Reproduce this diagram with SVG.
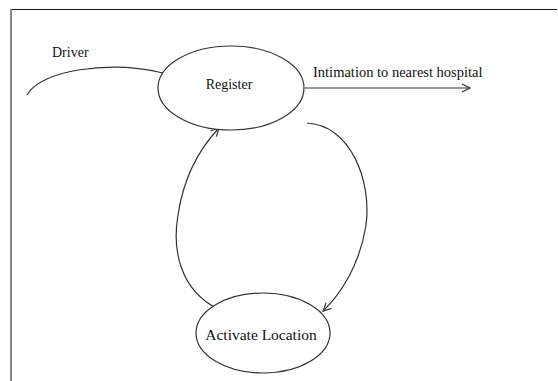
<svg xmlns="http://www.w3.org/2000/svg" width="558" height="381" viewBox="0 0 558 381">
<style>
.node{fill:#fff;stroke:#333;stroke-width:1.2}
.conn{fill:none;stroke:#333;stroke-width:1.2}
text{font-family:"Liberation Serif","Times New Roman",serif;fill:#111}
</style>
<defs>
<marker id="arr" viewBox="0 0 10 10" refX="9" refY="5" markerWidth="10" markerHeight="10" markerUnits="userSpaceOnUse" orient="auto">
<path d="M1,1 L9,5 L1,9" fill="none" stroke="#333" stroke-width="1.2"/>
</marker>
</defs>
<rect width="558" height="381" fill="#fff"/>
<g id="frame">
<line x1="10" y1="9.5" x2="557" y2="9.5" stroke="#111" stroke-width="1.2"/>
<line x1="11" y1="9" x2="11" y2="381" stroke="#888" stroke-width="2"/>
</g>
<g id="connectors">
<path class="conn" d="M27,95 C40,70 110,60 163,73"/>
<path class="conn" d="M305,88 L470,88" marker-end="url(#arr)"/>
<path class="conn" d="M307,123 C350,125 372,180 366,225 C360,265 340,295 323,311" marker-end="url(#arr)"/>
<path class="conn" d="M218,309 C180,290 172,250 178,215 C184,175 200,148 219,128" marker-end="url(#arr)"/>
</g>
<g id="driver">
<text x="52" y="57" font-size="14">Driver</text>
</g>
<g id="register">
<ellipse class="node" cx="231" cy="88" rx="73" ry="42"/>
<text x="229" y="89" font-size="14" text-anchor="middle">Register</text>
</g>
<g id="intimation">
<text x="313" y="77" font-size="14.5">Intimation to nearest hospital</text>
</g>
<g id="activate">
<ellipse class="node" cx="263" cy="333" rx="67" ry="40"/>
<text x="261" y="340" font-size="15.5" text-anchor="middle">Activate Location</text>
</g>
</svg>
